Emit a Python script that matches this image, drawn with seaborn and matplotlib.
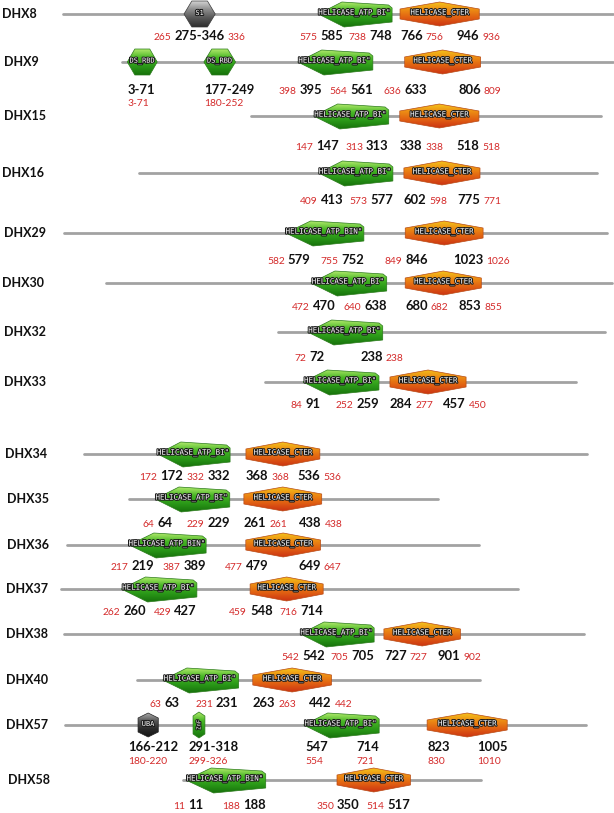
import numpy as np
import pandas as pd
import matplotlib
matplotlib.use("Agg")
import matplotlib.pyplot as plt
import seaborn as sns
from matplotlib.patches import Polygon
from matplotlib.colors import LinearSegmentedColormap
import matplotlib.patheffects as pe

# ---------------- data ----------------
proteins = ["DHX8", "DHX9", "DHX15", "DHX16", "DHX29", "DHX30", "DHX32", "DHX33",
            "DHX34", "DHX35", "DHX36", "DHX37", "DHX38", "DHX40", "DHX57", "DHX58"]
backbone_start = [0, -8, 0, 0, 70, 0, 0, 0, 0, 0, 73, 118, 0, 0, 0, 0]
backbone_end = [1250, 1107, 795, 1041, 1305, 1150, 743, 707, 1143, 703, 1008, 1157, 1182, 779, 1184, 678]

atp_start = [585, 395, 147, 413, 579, 470, 72, 91, 172, 64, 219, 260, 542, 63, 547, 11]
atp_end = [748, 561, 313, 577, 752, 638, 238, 259, 332, 229, 389, 427, 705, 231, 714, 188]
atp_start_alt = [575, 398, 147, 409, 582, 472, 72, 84, 172, 64, 217, 262, 542, 63, 554, 11]
atp_end_alt = [738, 564, 313, 573, 755, 640, 238, 252, 332, 229, 387, 429, 705, 231, 721, 188]
atp_label = ['HELICASE_ATP_BI"', 'HELICASE_ATP_BI"', 'HELICASE_ATP_BI"', 'HELICASE_ATP_BI"',
             'HELICASE_ATP_BIN"', 'HELICASE_ATP_BI"', 'HELICASE_ATP_BI"', 'HELICASE_ATP_BI"',
             'HELICASE_ATP_BI"', 'HELICASE_ATP_BI"', 'HELICASE_ATP_BIN"', 'HELICASE_ATP_BI"',
             'HELICASE_ATP_BI"', 'HELICASE_ATP_BI"', 'HELICASE_ATP_BI"', 'HELICASE_ATP_BIN"']

cter_start = [766, 633, 338, 602, 846, 680, None, 284, 368, 261, 479, 548, 727, 263, 823, 350]
cter_end = [946, 806, 518, 775, 1023, 853, None, 457, 536, 438, 649, 714, 901, 442, 1005, 517]
cter_start_alt = [756, 636, 338, 598, 849, 682, None, 277, 368, 261, 477, 459, 727, 263, 830, 350]
cter_end_alt = [936, 809, 518, 771, 1026, 855, None, 450, 536, 438, 647, 716, 902, 442, 1010, 514]
cter_label = "HELICASE_CTER"

# side of the red (alternative) number: L=left, R=right, B=below
red_side = ["LLRR", "LLLR", "LLRR", "LLRR", "LLLR", "LLRR", "LR", "LLRR",
            "LLRR", "LLRR", "LLLR", "LLLL", "LLRR", "LLRR", "BBBB", "LLLL"]

extra_protein = ["DHX8", "DHX9", "DHX9", "DHX57", "DHX57"]
extra_name = ["S1", "DS_RBD", "DS_RBD", "UBA", "ZnF"]
extra_start = [275, 3, 177, 166, 291]
extra_end = [346, 71, 249, 212, 318]
extra_start_alt = [265, 3, 180, 180, 299]
extra_end_alt = [336, 71, 252, 220, 326]

# ---------------- layout ----------------
PX_PER_AA = 0.44
offset_px = [63, 126, 251, 139, 33, 106, 278, 265, 84, 129, 35, 9, 64, 137, 65, 183]
row_y = [14, 62, 116, 173, 233, 283, 332, 382, 454, 499, 545, 589, 634, 680, 725, 780]
num_y = [35, 89, 146, 199, 259, 305, 356, 403, 475, 522, 565, 610, 655, 702, 746, 804]
label_x = [2, 4, 4, 2, 4, 2, 4, 4, 5, 7, 7, 6, 6, 6, 6, 8]
extra_shape = ["hside", "hside", "hside", "hvert", "capsule"]
extra_style = ["sides", "below", "below", "below", "below"]
extra_dx = [0, 0, 0, -7, -3]

GREEN = ['#aee86a', '#48b625', '#2a9818', '#17720b']
ORANGE = ['#f4c21a', '#ec8a14', '#e05e12', '#cc3412']
GRAY = ['#d2d2d2', '#8a8a8a', '#555555', '#2e2e2e']
DGRAY = ['#a8a8a8', '#555555', '#2a2a2a', '#141414']
RED = '#d42a2a'
BLACK = '#111111'

sns.set_theme(style="white")
plt.rcParams['font.family'] = ['Lato', 'DejaVu Sans']

fig = plt.figure(figsize=(6.14, 8.13), dpi=100)
ax = fig.add_axes([0, 0, 1, 1])


def px(i, aa):
    return offset_px[i] + PX_PER_AA * aa


# backbones via seaborn
rows = []
for i, p in enumerate(proteins):
    rows.append({"protein": p, "x": min(px(i, backbone_start[i]), 614), "y": row_y[i]})
    rows.append({"protein": p, "x": min(px(i, backbone_end[i]), 614), "y": row_y[i]})
bb = pd.DataFrame(rows)
sns.lineplot(data=bb, x="x", y="y", units="protein", estimator=None, sort=False,
             color="#a2a2a2", lw=2.0, ax=ax, legend=False, zorder=1)


def grad_poly(verts, colors, edge):
    poly = Polygon(verts, closed=True, facecolor='none', edgecolor=edge, lw=0.5, zorder=3)
    ax.add_patch(poly)
    xs = [v[0] for v in verts]
    ys = [v[1] for v in verts]
    cmap = LinearSegmentedColormap.from_list('g', colors)
    grad = np.linspace(0, 1, 64).reshape(-1, 1)
    im = ax.imshow(grad, cmap=cmap, extent=(min(xs), max(xs), max(ys), min(ys)),
                   origin='upper', aspect='auto', zorder=2, interpolation='bilinear')
    im.set_clip_path(poly)


def green_arrow(x0, x1, yc):
    w = x1 - x0
    return [(x0 - 2, yc), (x0 + 0.30 * w, yc - 12), (x1 - 0.05 * w, yc - 9), (x1, yc - 6),
            (x1, yc + 8), (x0 + 0.33 * w, yc + 13)]


def cter_hex(x0, x1, yc):
    xc = (x0 + x1) / 2
    return [(x0, yc - 5), (xc, yc - 12), (x1, yc - 5), (x1, yc + 5), (xc, yc + 12), (x0, yc + 5)]


def side_hex(x0, x1, yc):
    w = x1 - x0
    return [(x0, yc), (x0 + 0.25 * w, yc - 13), (x1 - 0.25 * w, yc - 13), (x1, yc),
            (x1 - 0.25 * w, yc + 13), (x0 + 0.25 * w, yc + 13)]


def vert_hex(x0, x1, yc, h=12, s=7):
    xc = (x0 + x1) / 2
    return [(x0, yc - s), (xc, yc - h), (x1, yc - s), (x1, yc + s), (xc, yc + h), (x0, yc + s)]


stroke = [pe.withStroke(linewidth=1.4, foreground='#1a1a1a')]


def dom_text(x, y, s, fs=5.4, rot=0):
    ax.text(x, y, s, ha='center', va='center', fontsize=fs, color='white',
            family='DejaVu Sans Mono', rotation=rot, zorder=5, path_effects=stroke)


def black_num(x, y, s, ha):
    return ax.text(x, y + 4.5, s, ha=ha, va='baseline', fontsize=9.4, fontweight='bold',
                   color=BLACK, zorder=6)


def red_num(anchor, y, s, side):
    yb = y + 4.5
    kw = dict(fontsize=7.4, color=RED, zorder=6, textcoords='offset points', va='baseline')
    if side == 'L':
        ax.annotate(s, xy=(0, yb), xycoords=(anchor, 'data'), xytext=(-2.2, 0),
                    ha='right', **kw)
    elif side == 'R':
        ax.annotate(s, xy=(1, yb), xycoords=(anchor, 'data'), xytext=(2.2, 0),
                    ha='left', **kw)
    else:
        ax.annotate(s, xy=(0, yb + 13), xycoords=(anchor, 'data'), xytext=(0, 0),
                    ha='left', **kw)


for i, p in enumerate(proteins):
    yc = row_y[i]
    ax.text(label_x[i], yc, p, ha='left', va='center', fontsize=9, fontweight='bold',
            color=BLACK, zorder=6)
    # ATP-binding helicase domain
    x0, x1 = px(i, atp_start[i]), px(i, atp_end[i])
    grad_poly(green_arrow(x0, x1, yc), GREEN, '#2a7a1a')
    dom_text((x0 + x1) / 2 - 2, yc - 1, atp_label[i])
    sides = red_side[i]
    t = black_num(x0, num_y[i], str(atp_start[i]), 'left')
    red_num(t, num_y[i], str(atp_start_alt[i]), sides[0])
    t = black_num(x1, num_y[i], str(atp_end[i]), 'right')
    red_num(t, num_y[i], str(atp_end_alt[i]), sides[1])
    # C-terminal helicase domain
    if cter_start[i] is not None:
        c0, c1 = px(i, cter_start[i]), px(i, cter_end[i])
        grad_poly(cter_hex(c0, c1, yc), ORANGE, '#b84a14')
        dom_text((c0 + c1) / 2, yc - 1, cter_label)
        t = black_num(c0, num_y[i], str(cter_start[i]), 'left')
        red_num(t, num_y[i], str(cter_start_alt[i]), sides[2])
        t = black_num(c1, num_y[i], str(cter_end[i]), 'right')
        red_num(t, num_y[i], str(cter_end_alt[i]), sides[3])

for k, p in enumerate(extra_protein):
    i = proteins.index(p)
    yc = row_y[i]
    x0, x1 = px(i, extra_start[k]), px(i, extra_end[k])
    shape = extra_shape[k]
    name = extra_name[k]
    if shape == "hside":
        cols = GRAY if name == "S1" else GREEN
        grad_poly(side_hex(x0, x1, yc), cols, '#3a3a3a' if name == "S1" else '#2a7a1a')
        dom_text((x0 + x1) / 2, yc - 1, name, fs=5.0)
    elif shape == "hvert":
        grad_poly(vert_hex(x0, x1, yc, 12, 7), DGRAY, '#222222')
        dom_text((x0 + x1) / 2, yc - 1, name, fs=5.0)
    else:
        grad_poly(vert_hex(x0, x1, yc, 13, 9), GREEN, '#2a7a1a')
        dom_text((x0 + x1) / 2, yc, "ZnF", fs=4.0, rot=90)
    if extra_style[k] == "sides":
        t = black_num((x0 + x1) / 2, num_y[i], f"{extra_start[k]}-{extra_end[k]}", 'center')
        red_num(t, num_y[i], str(extra_start_alt[k]), 'L')
        red_num(t, num_y[i], str(extra_end_alt[k]), 'R')
    else:
        yy = num_y[i]
        t = ax.annotate(f"{extra_start[k]}-{extra_end[k]}", xy=(x0, yy + 4.5),
                        xytext=(extra_dx[k], 0), textcoords='offset points',
                        ha='left', va='baseline', fontsize=9.4, fontweight='bold',
                        color=BLACK, zorder=6)
        red_num(t, yy, f"{extra_start_alt[k]}-{extra_end_alt[k]}", 'B')

ax.set_xlim(0, 614)
ax.set_ylim(813, 0)
ax.axis('off')
fig.savefig("out.png", dpi=100, facecolor='white')
